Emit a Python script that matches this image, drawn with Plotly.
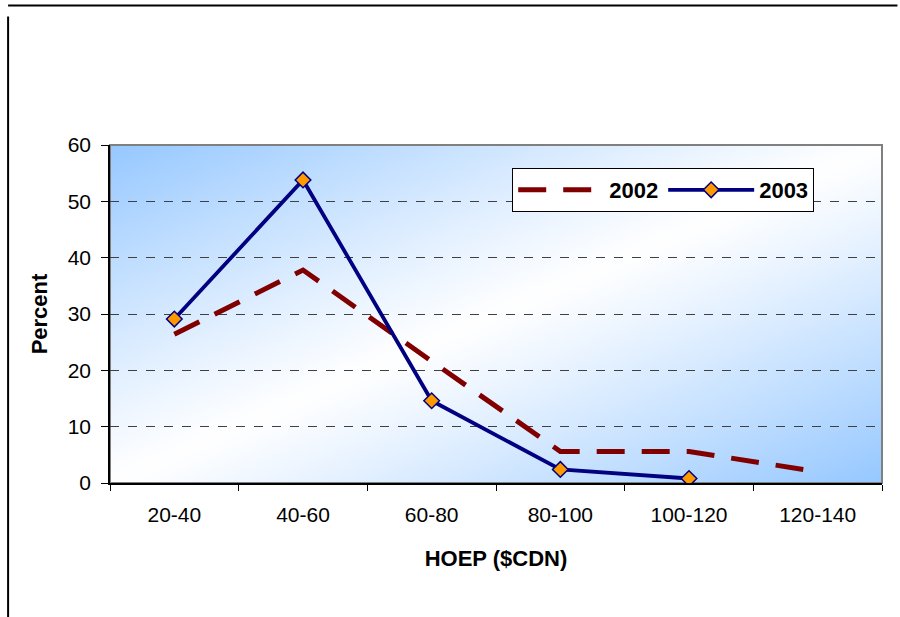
import base64, struct, zlib
import numpy as np
import plotly.graph_objects as go

categories = ["20-40", "40-60", "60-80", "80-100", "100-120", "120-140"]
pct_2002 = [26.4, 37.8, 21.6, 5.6, 5.6, 2.0]
pct_2003 = [29.1, 53.8, 14.6, 2.4, 0.8, None]
y_ticks = [0, 10, 20, 30, 40, 50, 60]

# ---- gradient background image (diagonal: blue corners, white middle) ----
W, H = 772, 338
xx = np.linspace(0, 1, W)[None, :]
yy = np.linspace(0, 1, H)[:, None]
t = (xx + yy) / 2.0
k = np.abs(2 * t - 1) ** 1.1
blue = np.array([150, 200, 255], dtype=float)
white = np.array([255, 255, 255], dtype=float)
img = white[None, None, :] + (blue - white)[None, None, :] * k[:, :, None]
img = np.clip(img, 0, 255).astype(np.uint8)

def png_bytes(arr):
    h, w, _ = arr.shape
    raw = b"".join(b"\x00" + arr[r].tobytes() for r in range(h))
    def chunk(tag, data):
        c = struct.pack(">I", len(data)) + tag + data
        return c + struct.pack(">I", zlib.crc32(tag + data) & 0xFFFFFFFF)
    return (b"\x89PNG\r\n\x1a\n" + chunk(b"IHDR", struct.pack(">IIBBBBB", w, h, 8, 2, 0, 0, 0))
            + chunk(b"IDAT", zlib.compress(raw, 9)) + chunk(b"IEND", b""))

bg_src = "data:image/png;base64," + base64.b64encode(png_bytes(img)).decode()

FONT = "Liberation Sans, Arial, sans-serif"

fig = go.Figure()
fig.add_trace(go.Scatter(
    x=categories, y=pct_2002, name="2002", mode="lines",
    line=dict(color="#800000", width=5, dash="28px,17px"),
))
fig.add_trace(go.Scatter(
    x=categories, y=pct_2003, name="2003", mode="lines+markers",
    line=dict(color="#000080", width=3.8),
    marker=dict(symbol="diamond", size=12, color="#FF9900",
                line=dict(color="#000080", width=1.5)),
))

fig.update_layout(
    width=900, height=617,
    margin=dict(l=110, r=18, t=145, b=134),
    paper_bgcolor="white", plot_bgcolor="rgba(0,0,0,0)",
    font=dict(family=FONT, size=21, color="black"),
    showlegend=True,
    legend=dict(
        orientation="h", x=0.521, y=0.932, xanchor="left", yanchor="top",
        bgcolor="white", bordercolor="black", borderwidth=1,
        font=dict(family=FONT, size=22, color="black", weight="bold"),
        itemwidth=86, traceorder="normal",
    ),
    images=[dict(source=bg_src, xref="paper", yref="paper", x=0, y=1,
                 sizex=1, sizey=1, sizing="stretch", layer="below",
                 xanchor="left", yanchor="top")],
    shapes=[
        dict(type="rect", xref="paper", yref="paper", x0=0, x1=1, y0=0, y1=1,
             line=dict(color="#808080", width=2), layer="below"),
        dict(type="line", xref="paper", yref="paper", x0=-0.132, x1=-0.132,
             y0=1.38, y1=-0.41, line=dict(color="black", width=2)),
        dict(type="line", xref="paper", yref="paper", x0=-0.132, x1=1.02,
             y0=1.413, y1=1.413, line=dict(color="black", width=2)),
    ],
)

fig.update_xaxes(
    type="category", range=[-0.5, 5.5],
    showline=True, linecolor="black", linewidth=1.5,
    ticks="outside", tickson="boundaries", ticklen=6, tickcolor="black",
    showgrid=False, tickfont=dict(family=FONT, size=21), ticklabelstandoff=12,
    title=dict(text="HOEP ($CDN)", font=dict(family=FONT, size=22, weight="bold"), standoff=26),
)
fig.update_yaxes(
    range=[0, 60], tickvals=y_ticks,
    showline=True, linecolor="black", linewidth=1.5,
    ticks="outside", ticklen=7, tickcolor="black",
    showgrid=True, gridcolor="#404040", griddash="dash", gridwidth=1,
    zeroline=False, tickfont=dict(family=FONT, size=21), ticklabelstandoff=6,
    title=dict(text="Percent", font=dict(family=FONT, size=22, weight="bold"), standoff=14),
)

fig.write_html("out.html")
